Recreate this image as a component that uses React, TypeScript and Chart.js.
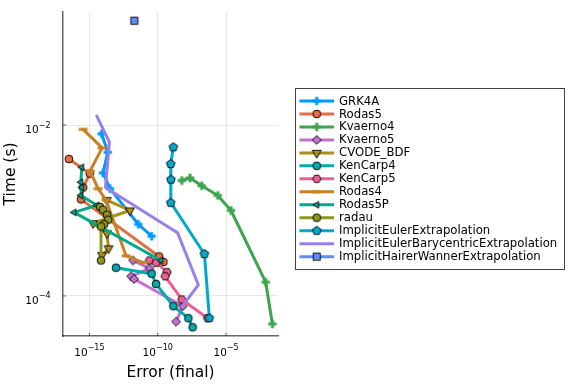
import React, { useEffect, useRef } from "react";
import { Chart, registerables } from "chart.js";
Chart.register(...registerables);

// ---------- data ----------
const seriesNames = [
  "GRK4A",
  "Rodas5",
  "Kvaerno4",
  "Kvaerno5",
  "CVODE_BDF",
  "KenCarp4",
  "KenCarp5",
  "Rodas4",
  "Rodas5P",
  "radau",
  "ImplicitEulerExtrapolation",
  "ImplicitEulerBarycentricExtrapolation",
  "ImplicitHairerWannerExtrapolation",
];
const seriesColors = [
  "#009AFA", "#E36F47", "#3EA44E", "#C371D2", "#AC8E18", "#00AAAE", "#ED5E93",
  "#C68225", "#00A98D", "#8E971D", "#00A8CB", "#9B7FE8", "#608CF6",
];
const seriesMarkers = [
  "plus", "circle", "plus", "diamond", "triDown", "circle", "hexagon",
  "hline", "triLeft", "circle", "pentagon", "none", "square",
];

const grk4aErr = [7.9e-15, 2.2e-14, 1.0e-14, 3.2e-14, 3.8e-12, 3.6e-11];
const grk4aTime = [7.9e-3, 4.8e-3, 2.75e-3, 1.8e-3, 6.9e-4, 5.0e-4];

const rodas5Err = [3.2e-17, 1.07e-15, 3.5e-16, 2.45e-16, 1.26e-10, 2.6e-10];
const rodas5Time = [4.0e-3, 2.7e-3, 1.86e-3, 1.35e-3, 2.9e-4, 2.5e-4];

const kvaerno4Err = [5.75e-9, 2.3e-8, 1.66e-7, 2.45e-6, 2.3e-5, 7.9e-3, 2.45e-2];
const kvaerno4Time = [2.24e-3, 2.4e-3, 1.95e-3, 1.5e-3, 1.0e-3, 1.45e-4, 4.7e-5];

const kvaerno5Err = [1.55e-12, 2.5e-11, 1.12e-12, 1.86e-12, 6.8e-9, 2.2e-9];
const kvaerno5Time = [2.6e-4, 2.1e-4, 1.7e-4, 1.58e-4, 7.6e-5, 5.0e-5];

const cvodeErr = [1.86e-14, 9.3e-13, 1.86e-15, 1.95e-14, 2.5e-14, 8.5e-15];
const cvodeTime = [1.32e-3, 1.0e-3, 7.1e-4, 5.4e-4, 3.6e-4, 3.0e-4];

const kenCarp4Err = [8.9e-14, 3.6e-11, 7.6e-11, 1.38e-9, 1.74e-8, 3.6e-8];
const kenCarp4Time = [2.14e-4, 1.82e-4, 1.38e-4, 7.6e-5, 5.5e-5, 4.3e-5];

const kenCarp5Err = [2.45e-11, 7.6e-11, 4.8e-10, 3.5e-10, 5.75e-9, 4.4e-7];
const kenCarp5Time = [2.6e-4, 2.45e-4, 1.9e-4, 1.7e-4, 9.1e-5, 5.5e-5];

const rodas4Err = [3.5e-16, 8.5e-15, 1.12e-15, 4.3e-15, 1.66e-14, 4.8e-13, 8.5e-12];
const rodas4Time = [8.9e-3, 5.4e-3, 2.9e-3, 1.8e-3, 1.32e-3, 2.95e-4, 2.45e-4];

const rodas5PErr = [2.75e-16, 2.35e-16, 2.75e-16, 2.35e-16, 3.6e-15, 7.6e-17, 1.74e-10];
const rodas5PTime = [3.2e-3, 2.14e-3, 1.86e-3, 1.5e-3, 1.15e-3, 9.5e-4, 2.6e-4];

const radauErr = [6.0e-15, 1.0e-14, 1.95e-14, 2.35e-14, 1.17e-14, 7.1e-15, 7.1e-15];
const radauTime = [1.1e-3, 1.02e-3, 8.9e-4, 7.8e-4, 6.9e-4, 6.5e-4, 2.6e-4];

const ieExtrapErr = [1.38e-9, 8.9e-10, 9.3e-10, 8.9e-10, 2.6e-7, 6.0e-7];
const ieExtrapTime = [5.5e-3, 3.5e-3, 2.3e-3, 1.23e-3, 3.1e-4, 5.5e-5];

const ieBaryErr = [3.5e-15, 2.9e-14, 1.5e-14, 2.8e-9, 9.3e-8, 8.5e-9];
const ieBaryTime = [1.27e-2, 6.3e-3, 1.86e-3, 5.5e-4, 1.35e-4, 8.1e-5];

const ihwErr = [1.95e-12];
const ihwTime = [0.166];

const seriesErr = [
  grk4aErr, rodas5Err, kvaerno4Err, kvaerno5Err, cvodeErr, kenCarp4Err, kenCarp5Err,
  rodas4Err, rodas5PErr, radauErr, ieExtrapErr, ieBaryErr, ihwErr,
];
const seriesTime = [
  grk4aTime, rodas5Time, kvaerno4Time, kvaerno5Time, cvodeTime, kenCarp4Time, kenCarp5Time,
  rodas4Time, rodas5PTime, radauTime, ieExtrapTime, ieBaryTime, ihwTime,
];

const xTickValues = [1e-15, 1e-10, 1e-5];
const yTickValues = [1e-4, 1e-2];
const xMin = 1.17e-17;
const xMax = 6.3e-2;
const yMin = 3.4e-5;
const yMax = 0.21;

const FONT = '"DejaVu Sans", sans-serif';

// ---------- markers ----------
function makeMarker(shape: string, color: string): HTMLCanvasElement | null {
  if (shape === "none") return null;
  const S = 16;
  const c = document.createElement("canvas");
  c.width = S;
  c.height = S;
  const g = c.getContext("2d")!;
  g.translate(S / 2, S / 2);
  const fillStroke = () => {
    g.fillStyle = color;
    g.fill();
    g.lineWidth = 1;
    g.strokeStyle = "rgba(0,0,0,0.9)";
    g.stroke();
  };
  const poly = (n: number, r: number, rot: number) => {
    g.beginPath();
    for (let i = 0; i < n; i++) {
      const a = rot + (i * 2 * Math.PI) / n;
      g.lineTo(r * Math.cos(a), r * Math.sin(a));
    }
    g.closePath();
  };
  switch (shape) {
    case "plus": {
      const a = 4.2, t = 1.5;
      g.beginPath();
      g.moveTo(-t, -a); g.lineTo(t, -a); g.lineTo(t, -t); g.lineTo(a, -t);
      g.lineTo(a, t); g.lineTo(t, t); g.lineTo(t, a); g.lineTo(-t, a);
      g.lineTo(-t, t); g.lineTo(-a, t); g.lineTo(-a, -t); g.lineTo(-t, -t);
      g.closePath();
      g.fillStyle = color;
      g.fill();
      break;
    }
    case "circle":
      g.beginPath();
      g.arc(0, 0, 3.9, 0, Math.PI * 2);
      fillStroke();
      break;
    case "diamond":
      poly(4, 4.4, -Math.PI / 2);
      fillStroke();
      break;
    case "triDown":
      poly(3, 5.2, Math.PI / 2);
      fillStroke();
      break;
    case "triLeft":
      poly(3, 3.8, Math.PI);
      fillStroke();
      break;
    case "hexagon":
      poly(6, 4.2, 0);
      fillStroke();
      break;
    case "pentagon":
      poly(5, 4.5, -Math.PI / 2);
      fillStroke();
      break;
    case "square":
      g.beginPath();
      g.rect(-3.6, -3.6, 7.2, 7.2);
      fillStroke();
      break;
    case "hline":
      g.fillStyle = color;
      g.fillRect(-4.5, -1.5, 9, 3);
      break;
  }
  return c;
}

function expLabel(v: number): string {
  const e = Math.round(Math.log10(v));
  return e < 0 ? "\u2212" + String(-e) : String(e);
}

export default function App() {
  const ref = useRef<HTMLCanvasElement | null>(null);

  useEffect(() => {
    if (!ref.current) return;
    const markers = seriesMarkers.map((m, i) => makeMarker(m, seriesColors[i]));
    const N = seriesNames.length;

    const datasets = seriesNames.map((name, i) => ({
      label: name,
      data: seriesErr[i].map((x, k) => ({ x, y: seriesTime[i][k] })),
      borderColor: seriesColors[i],
      backgroundColor: seriesColors[i],
      borderWidth: 3,
      borderJoinStyle: "round" as const,
      borderCapStyle: "round" as const,
      showLine: true,
      pointStyle: markers[i] || "circle",
      pointRadius: markers[i] ? 4 : 0,
      pointHoverRadius: markers[i] ? 4 : 0,
      order: N - i,
    }));

    const decor = {
      id: "decor",
      afterDraw(chart: any) {
        const ctx = chart.ctx as CanvasRenderingContext2D;
        const xs = chart.scales.x;
        const ys = chart.scales.y;
        const area = chart.chartArea;
        ctx.save();
        const big = `10.5px ${FONT}`;
        const small = `8px ${FONT}`;
        ctx.fillStyle = "#000";
        ctx.textBaseline = "alphabetic";
        ctx.textAlign = "left";
        ctx.strokeStyle = "rgba(0,0,0,0.6)";
        ctx.lineWidth = 1;
        for (const v of xTickValues) {
          const px = xs.getPixelForValue(v);
          const ex = expLabel(v);
          ctx.font = big;
          const w1 = ctx.measureText("10").width;
          ctx.font = small;
          const w2 = ctx.measureText(ex).width;
          const x0 = px - (w1 + w2) / 2;
          ctx.font = big;
          ctx.fillText("10", x0, area.bottom + 19.5);
          ctx.font = small;
          ctx.fillText(ex, x0 + w1, area.bottom + 14);
          ctx.beginPath();
          ctx.moveTo(px, area.bottom);
          ctx.lineTo(px, area.bottom - 3);
          ctx.stroke();
        }
        for (const v of yTickValues) {
          const py = ys.getPixelForValue(v);
          const ex = expLabel(v);
          ctx.font = big;
          const w1 = ctx.measureText("10").width;
          ctx.font = small;
          const w2 = ctx.measureText(ex).width;
          const right = area.left - 12.5;
          ctx.font = big;
          ctx.fillText("10", right - w2 - w1, py + 8);
          ctx.font = small;
          ctx.fillText(ex, right - w2, py + 2.5);
          ctx.beginPath();
          ctx.moveTo(area.left, py);
          ctx.lineTo(area.left + 3, py);
          ctx.stroke();
        }

        // legend
        const bx = 295.5, by = 88.5, bw = 269, bh = 181;
        ctx.fillStyle = "#fff";
        ctx.fillRect(bx, by, bw, bh);
        ctx.strokeStyle = "rgba(0,0,0,0.75)";
        ctx.lineWidth = 1;
        ctx.strokeRect(bx, by, bw, bh);
        const rowY0 = 101, step = 12.97;
        ctx.font = `11.7px ${FONT}`;
        ctx.textBaseline = "middle";
        for (let i = 0; i < N; i++) {
          const y = rowY0 + i * step;
          ctx.strokeStyle = seriesColors[i];
          ctx.lineWidth = 3;
          ctx.lineCap = "butt";
          ctx.beginPath();
          ctx.moveTo(299.5, y);
          ctx.lineTo(334, y);
          ctx.stroke();
          const m = markers[i];
          if (m) ctx.drawImage(m, 316.7 - m.width / 2, y - m.height / 2);
          ctx.fillStyle = "#000";
          ctx.fillText(seriesNames[i], 339, y + 0.5);
        }
        ctx.restore();
      },
    };

    const chart = new Chart(ref.current, {
      type: "scatter",
      data: { datasets: datasets as any },
      options: {
        animation: false,
        responsive: false,
        devicePixelRatio: 1,
        layout: { padding: { left: 0, right: 298, top: 12, bottom: 0 } },
        plugins: { legend: { display: false }, tooltip: { enabled: false } },
        scales: {
          x: {
            type: "logarithmic",
            min: xMin,
            max: xMax,
            bounds: "data",
            afterBuildTicks: (s: any) => {
              s.ticks = xTickValues.map((v) => ({ value: v }));
            },
            afterFit: (s: any) => {
              s.height = 48;
            },
            ticks: { display: false },
            grid: { color: "rgba(0,0,0,0.09)", lineWidth: 1, drawTicks: false },
            border: { display: true, color: "rgba(0,0,0,0.6)", width: 1.5 },
            title: {
              display: true,
              text: "Error (final)",
              color: "#000",
              font: { family: FONT, size: 15.5 },
              padding: { top: 0, bottom: 2 },
            },
          },
          y: {
            type: "logarithmic",
            min: yMin,
            max: yMax,
            bounds: "data",
            afterBuildTicks: (s: any) => {
              s.ticks = yTickValues.map((v) => ({ value: v }));
            },
            afterFit: (s: any) => {
              s.width = 63;
            },
            ticks: { display: false },
            grid: { color: "rgba(0,0,0,0.09)", lineWidth: 1, drawTicks: false },
            border: { display: true, color: "rgba(0,0,0,0.6)", width: 1.5 },
            title: {
              display: true,
              text: "Time (s)",
              color: "#000",
              font: { family: FONT, size: 15.5 },
              padding: { top: 2, bottom: 0 },
            },
          },
        },
      } as any,
      plugins: [decor],
    });
    return () => chart.destroy();
  }, []);

  return (
    <div style={{ position: "fixed", left: 0, top: 0, width: 576, height: 384, background: "#fff" }}>
      <canvas ref={ref} width={576} height={384} style={{ display: "block" }} />
    </div>
  );
}
